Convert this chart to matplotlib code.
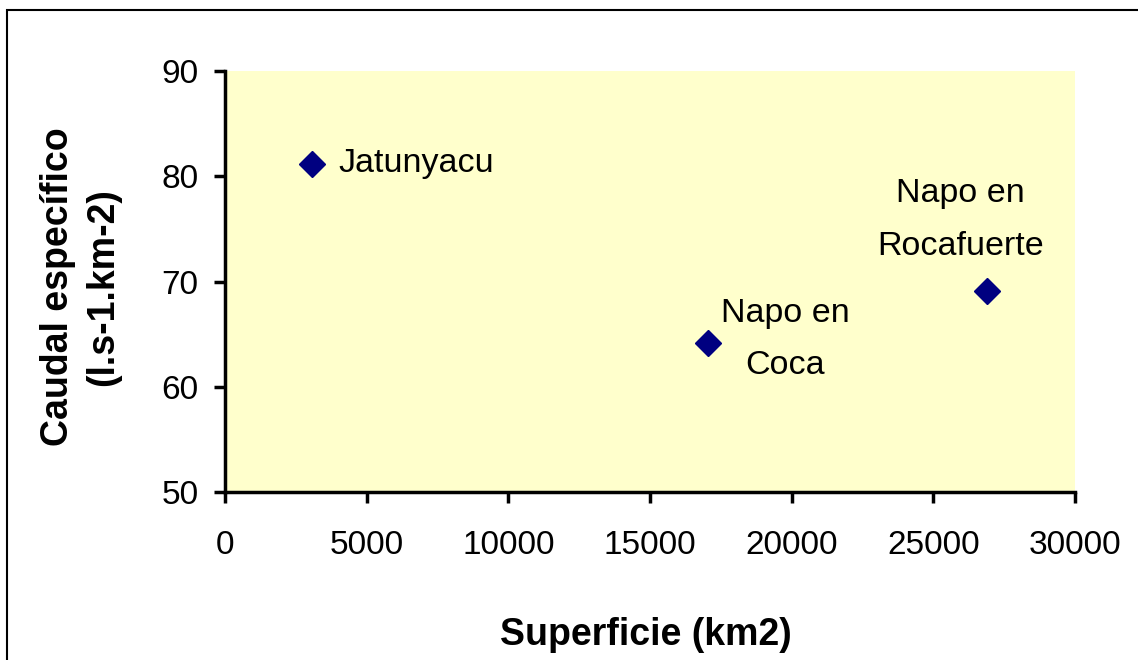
import matplotlib
matplotlib.use("Agg")
import matplotlib.pyplot as plt
from matplotlib.patches import Rectangle

plt.rcParams['font.family'] = ['Liberation Sans', 'DejaVu Sans']

# Superficie de cuenca (km2) vs caudal especifico (l.s-1.km-2)
estaciones = ['Jatunyacu', 'Napo en\nCoca', 'Napo en\nRocafuerte']
superficie = [3070, 17050, 26900]
caudal_esp = [81.2, 64.2, 69.1]

# desplazamiento de cada etiqueta respecto a su punto (pixeles)
offsets = [(26, 0), (77, 3), (-27, 71)]
alineacion = ['left', 'center', 'center']

fig = plt.figure(figsize=(11.38, 6.6), dpi=100)
ax = fig.add_axes([225 / 1138, 1 - 492 / 660, 850 / 1138, 421 / 660])
ax.set_facecolor('#FFFFCC')

ax.plot(superficie, caudal_esp, linestyle='none', marker='D', markersize=13,
        color='#000080')

for nombre, x, y, (dx, dy), ha in zip(estaciones, superficie, caudal_esp, offsets, alineacion):
    ax.annotate(nombre, (x, y), xytext=(dx * 0.72, dy * 0.72), textcoords='offset points',
                ha=ha, va='center', fontsize=24.5, linespacing=1.9)

ax.set_xlim(0, 30000)
ax.set_ylim(50, 90)
ax.set_xticks(range(0, 30001, 5000))
ax.set_yticks(range(50, 91, 10))
ax.tick_params(labelsize=24, width=2.5, length=8)
ax.tick_params(axis='x', pad=19)
ax.tick_params(axis='y', pad=11)
for lado in ['top', 'right']:
    ax.spines[lado].set_visible(False)
for lado in ['left', 'bottom']:
    ax.spines[lado].set_linewidth(2.5)

fig.text(646 / 1138, 1 - 635 / 660, 'Superficie (km2)', ha='center', va='center',
         fontsize=27, fontweight='bold')
fig.text(81 / 1138, 1 - 287 / 660, 'Caudal específico\n(l.s-1.km-2)', ha='center',
         va='center', rotation=90, fontsize=27, fontweight='bold', linespacing=1.33)

# marco exterior del grafico
fig.patches.append(Rectangle((7 / 1138, -0.05), 1.2, 1 - 10 / 660 + 0.05,
                             transform=fig.transFigure, fill=False,
                             edgecolor='black', linewidth=1.5))

fig.savefig('out.png', dpi=100)
